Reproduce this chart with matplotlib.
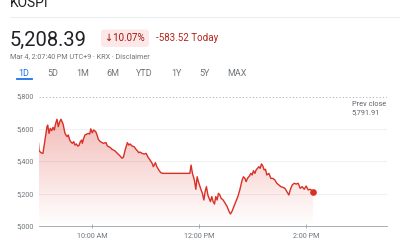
"""KOSPI intraday chart, Google Finance style."""

import numpy as np
import matplotlib
matplotlib.use("Agg")
import matplotlib.pyplot as plt
from matplotlib.patches import Polygon, FancyBboxPatch
from matplotlib.lines import Line2D

# minutes after 09:00 KST
TIMES = [0.0, 0.6, 2.8, 5.0, 7.3, 9.5, 10.3, 11.8, 13.2, 14.8, 16.3, 17.7, 19.3,
         20.7, 22.2, 23.8, 25.2, 27.5, 29.7, 32.0, 33.4, 35.0, 36.4, 37.9, 39.5,
         40.9, 42.4, 44.0, 45.4, 46.9, 48.4, 49.1, 50.7, 52.1, 54.4, 55.9, 57.4,
         58.6, 60.3, 61.9, 64.2, 65.6, 67.1, 69.3, 72.7, 75.7, 77.2, 80.2, 82.4,
         85.5, 88.4, 91.4, 93.6, 95.1, 97.3, 99.6, 101.2, 102.6, 104.9, 107.1,
         109.3, 110.8, 112.4, 113.8, 116.1, 118.3, 120.6, 122.8, 125.0, 127.3,
         128.7, 131.0, 132.6, 134.8, 137.0, 139.3, 169.6, 171.0, 172.5, 174.7,
         176.3, 177.8, 179.2, 180.8, 182.2, 183.7, 185.3, 186.7, 188.2, 189.8,
         191.2, 192.7, 194.2, 195.7, 197.2, 198.7, 200.2, 201.7, 203.2, 204.7,
         206.9, 209.2, 211.4, 213.7, 215.1, 216.7, 218.9, 221.2, 223.4, 225.6,
         228.2, 229.7, 231.3, 232.7, 234.2, 236.4, 238.0, 239.4, 240.9, 242.5,
         243.9, 245.4, 247.0, 248.4, 249.9, 251.4, 252.9, 254.4, 255.9, 258.2,
         260.4, 262.7, 264.9, 267.1, 269.4, 271.6, 273.9, 276.1, 278.4, 280.6,
         282.1, 284.3, 286.6, 288.8, 291.0, 293.3, 295.5, 297.8, 300.0, 302.2,
         304.5, 306.7, 307.7]
PRICES = [5509, 5463, 5451, 5447, 5529, 5611, 5621, 5570, 5601, 5587, 5607, 5591,
          5632, 5657, 5611, 5642, 5657, 5628, 5570, 5550, 5560, 5529, 5517, 5509,
          5519, 5498, 5505, 5492, 5496, 5519, 5529, 5509, 5540, 5560, 5566, 5570,
          5566, 5598, 5574, 5591, 5580, 5560, 5533, 5519, 5509, 5513, 5492, 5484,
          5472, 5463, 5447, 5431, 5417, 5423, 5472, 5513, 5498, 5505, 5492, 5488,
          5472, 5463, 5451, 5455, 5447, 5443, 5447, 5423, 5406, 5386, 5365, 5390,
          5365, 5345, 5328, 5324, 5324, 5375, 5324, 5283, 5226, 5303, 5273, 5246,
          5222, 5201, 5160, 5211, 5242, 5191, 5170, 5150, 5181, 5150, 5135, 5181,
          5160, 5201, 5191, 5170, 5160, 5140, 5119, 5088, 5074, 5088, 5119, 5150,
          5181, 5222, 5283, 5303, 5293, 5273, 5293, 5308, 5324, 5314, 5340, 5324,
          5345, 5355, 5365, 5355, 5382, 5369, 5345, 5349, 5314, 5324, 5293, 5293,
          5283, 5263, 5252, 5242, 5238, 5232, 5211, 5191, 5222, 5252, 5263, 5258,
          5263, 5232, 5242, 5226, 5246, 5222, 5226, 5217, 5208.39]

PREV_CLOSE = 5791.91
Y_TICKS = [5000, 5200, 5400, 5600, 5800]
Y_LABELS = ["5,000", "5,200", "5,400", "5,600", "5,800"]
X_TICKS = [60, 180, 300]
X_LABELS = ["10:00 AM", "12:00 PM", "2:00 PM"]
TABS = ["1D", "5D", "1M", "6M", "YTD", "1Y", "5Y", "MAX"]

RED = "#d93025"
GREY = "#70757a"
DARK = "#202124"

plt.rcParams["font.family"] = ["Roboto", "DejaVu Sans"]

W, H = 400, 240
fig = plt.figure(figsize=(4, 2.4), dpi=100)


def fx(px):
    return px / W


def fy(py):
    return 1 - py / H


# header
fig.text(fx(10), fy(6.7), "KOSPI", fontsize=10, color=DARK, va="baseline")
fig.add_artist(Line2D([fx(10), 1], [fy(17), fy(17)], color="#eceff1", lw=0.8))
fig.text(fx(10), fy(46), "5,208.39", fontsize=14.5, color=DARK, va="baseline")
fig.add_artist(FancyBboxPatch((fx(101), fy(47)), fx(48), 17.5 / H,
                              boxstyle="round,pad=0,rounding_size=0.01",
                              transform=fig.transFigure, fc="#fce8e6", ec="none"))
fig.text(fx(125), fy(38), "\u219310.07%", fontsize=7, color="#a50e0e",
         ha="center", va="center")
fig.text(fx(156), fy(38), "-583.52 Today", fontsize=7, color="#b3261e", va="center")
fig.text(fx(10), fy(56.5), "Mar 4, 2:07:40\u202fPM UTC+9 \u00b7 KRX \u00b7 Disclaimer",
         fontsize=5.2, color=GREY, va="center")
tab_x = [24, 53, 83, 113, 144, 176, 205, 237]
for x, lab in zip(tab_x, TABS):
    fig.text(fx(x), fy(73), lab, fontsize=6.5, ha="center", va="center",
             color="#1a73e8" if lab == "1D" else GREY)
fig.add_artist(Line2D([fx(17), fx(32)], [fy(79), fy(79)], color="#1a73e8", lw=1.3))

# chart
ax = fig.add_axes([fx(38.5), fy(226), 348 / W, 130 / H])
ax.set_xlim(0, 390)
ax.set_ylim(5000, 5800)

t = np.array(TIMES)
p = np.array(PRICES)
verts = [(t[0], 5000)] + list(zip(t, p)) + [(t[-1], 5000)]
poly = Polygon(verts, closed=True, fc="none", ec="none")
ax.add_patch(poly)
grad = np.zeros((256, 1, 4))
rgb = matplotlib.colors.to_rgb(RED)
grad[..., 0], grad[..., 1], grad[..., 2] = rgb
grad[:, 0, 3] = np.linspace(0.32, 0.0, 256)
im = ax.imshow(grad, extent=[t[0], t[-1], 5000, p.max()], aspect="auto",
               origin="upper", zorder=1)
im.set_clip_path(poly)

for y in Y_TICKS[1:-1]:
    ax.axhline(y, color="#eeeeee", lw=0.6, zorder=0)
ax.axhline(PREV_CLOSE, color="#aaaaaa", lw=0.6, ls=(0, (1.5, 2.5)), zorder=0)
ax.plot(t, p, color=RED, lw=1.0, zorder=3)
ax.plot(t[-1], p[-1], "o", color=RED, ms=3.8, zorder=4)

for s in ["top", "right", "left"]:
    ax.spines[s].set_visible(False)
ax.spines["bottom"].set_color("#9aa0a6")
ax.spines["bottom"].set_linewidth(0.6)
ax.set_yticks(Y_TICKS)
ax.set_yticklabels(Y_LABELS)
ax.set_xticks(X_TICKS)
ax.set_xticklabels(X_LABELS)
ax.tick_params(axis="y", length=0, pad=3.5, labelsize=5.1, labelcolor=GREY)
ax.tick_params(axis="x", direction="inout", length=3.5, width=0.6, color="#9aa0a6",
               pad=3, labelsize=5.2, labelcolor=GREY)
ax.patch.set_alpha(0)

fig.text(fx(351.5), fy(104), "Prev close", fontsize=5.3, color="#5f6368", va="center")
fig.text(fx(351.5), fy(113), "5,791.91", fontsize=5.3, color="#5f6368", va="center")

fig.savefig("out.png", dpi=100)
